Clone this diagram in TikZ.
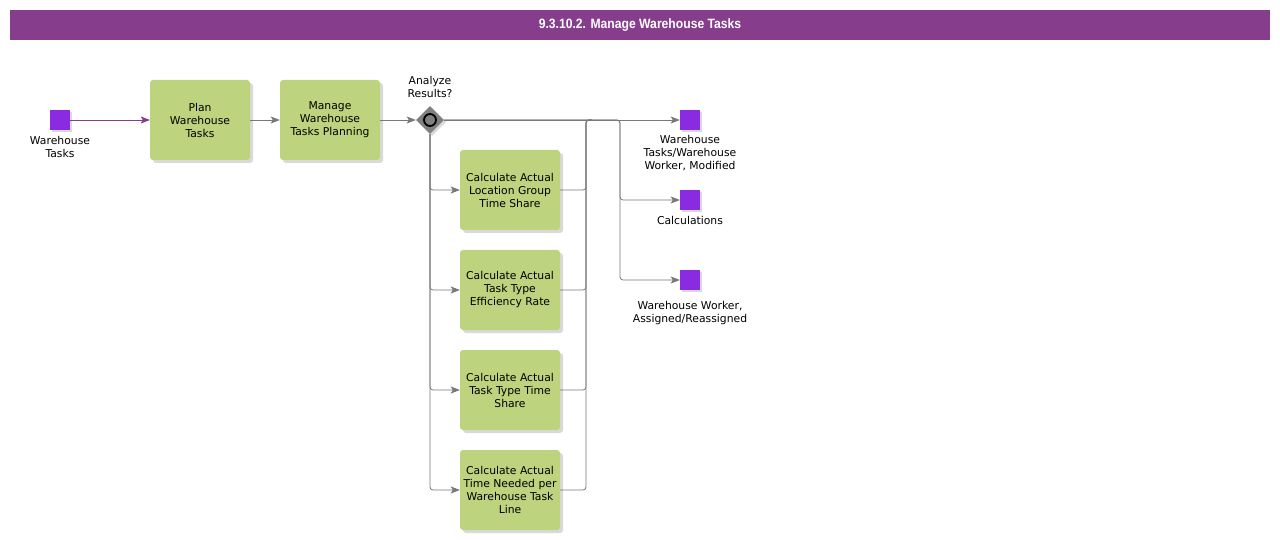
\documentclass[tikz,border=0pt]{standalone}
\usepackage{fontspec}
\setmainfont{DejaVu Sans}
\newfontfamily\titlefont[FakeStretch=0.9]{Liberation Sans}
\usetikzlibrary{arrows.meta,shadows,shapes.geometric}
\definecolor{titlepurple}{RGB}{134,62,140}
\definecolor{datapurple}{RGB}{138,43,226}
\definecolor{taskgreen}{RGB}{189,211,126}
\definecolor{linegray}{RGB}{120,120,120}
\begin{document}
\begin{tikzpicture}[x=1pt,y=-1pt]
\tikzstyle{every node}+=[inner sep=0pt, align=center, font=\fontsize{10.8}{13}\selectfont]
\tikzstyle{task}=[fill=taskgreen, rounded corners=3pt, minimum width=100pt, minimum height=80pt, drop shadow={shadow xshift=3pt, shadow yshift=-3pt, opacity=0.3}]
\tikzstyle{data}=[fill=datapurple, minimum size=20pt, drop shadow={shadow xshift=2pt, shadow yshift=-2pt, opacity=0.3}]
\tikzstyle{gateway}=[diamond, fill=gray, minimum width=28pt, minimum height=28pt, drop shadow={shadow xshift=2pt, shadow yshift=-2pt, opacity=0.3}]
\tikzstyle{flow}=[draw=linegray, line width=0.8pt, rounded corners=3pt, -{Stealth[length=9pt,width=7pt,inset=2pt]}]
\tikzstyle{mergeline}=[draw=linegray, line width=0.8pt, rounded corners=3pt]
\useasboundingbox (0,0) rectangle (1280,540);
% title bar
\node[fill=titlepurple, minimum width=1260pt, minimum height=30pt, text=white, font=\titlefont\bfseries\fontsize{13.5}{15}\selectfont] (title) at (640,25) {9.3.10.2. Manage Warehouse Tasks};
% input
\node[data] (wt) at (60,120) {};
\node (wtlabel) at (60,146.5) {Warehouse\\Tasks};
% tasks
\node[task] (plan) at (200,120) {Plan\\Warehouse\\Tasks};
\node[task] (manage) at (330,120) {Manage\\Warehouse\\Tasks Planning};
% gateway
\node[gateway] (analyze) at (430,120) {};
\node[circle, fill=gray, draw=black, line width=1.8pt, minimum size=12pt] (analyzering) at (analyze) {};
\node (analyzelabel) at (430,86.5) {Analyze\\Results?};
% calculations
\node[task] (calcloc) at (510,190) {Calculate Actual\\Location Group\\Time Share};
\node[task] (calceff) at (510,290) {Calculate Actual\\Task Type\\Efficiency Rate};
\node[task] (calctype) at (510,390) {Calculate Actual\\Task Type Time\\Share};
\node[task] (calcline) at (510,490) {Calculate Actual\\Time Needed per\\Warehouse Task\\Line};
% outputs
\node[data] (modified) at (690,120) {};
\node (modifiedlabel) at (690,153) {Warehouse\\Tasks/Warehouse\\Worker, Modified};
\node[data] (calc) at (690,200) {};
\node (calclabel) at (690,220) {Calculations};
\node[data] (assigned) at (690,280) {};
\node (assignedlabel) at (690,313.5) {Warehouse Worker,\\Assigned/Reassigned};
\coordinate (merge) at (586,120);
\coordinate (split) at (620,120);
% connectors
\draw[flow, draw=titlepurple] (wt) -- (plan);
\draw[flow] (plan) -- (manage);
\draw[flow] (manage) -- (analyze);
\foreach \t in {calcloc,calceff,calctype,calcline}{
  \draw[flow] (analyze.south) |- (\t.west);
  \draw[mergeline] (\t.east) -| (merge) -- ++(6,0);
}
\draw[flow] (analyze.east) -- (modified);
\draw[flow] (analyze.east) -- (split) |- (calc);
\draw[flow] (analyze.east) -- (split) |- (assigned);
\end{tikzpicture}
\end{document}
